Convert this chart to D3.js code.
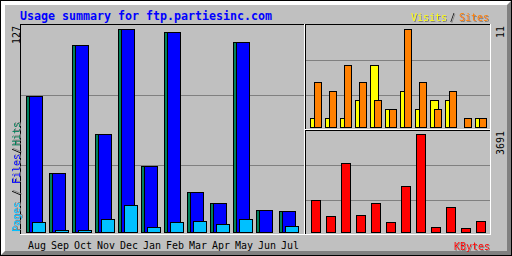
<!DOCTYPE html>
<html><head><meta charset="utf-8">
<script src="https://cdn.jsdelivr.net/npm/d3@7"></script>
<style>html,body{margin:0;padding:0;background:#c0c0c0;overflow:hidden}svg{display:block}</style>
</head><body>
<script>
// ---- data ----
const months = ["Aug","Sep","Oct","Nov","Dec","Jan","Feb","Mar","Apr","May","Jun","Jul"];
const hits   = [85, 37, 117, 61, 127, 41, 125, 25, 18, 119, 14, 13];
const files  = [85, 37, 117, 61, 127, 41, 125, 25, 18, 119, 14, 13];
const pages  = [6, 1, 1, 8, 17, 3, 6, 7, 5, 8, 0, 4];
const visits = [1, 1, 1, 3, 7, 2, 4, 2, 3, 3, 0, 1];
const sites  = [5, 4, 7, 5, 3, 2, 11, 5, 2, 4, 1, 1];
const kbytes = [1194, 591, 2588, 629, 1081, 365, 1721, 3691, 177, 930, 139, 403];
const titleText = "Usage summary for ftp.partiesinc.com";

// ---- styles ----
const C = {bg:"#c0c0c0", dk:"#808080", white:"#ffffff", black:"#000000",
  hits:"#00805c", files:"#0000ff", pages:"#00c0ff", visits:"#ffff00",
  sites:"#ff8000", kbytes:"#ff0000", title:"#0000ff"};
const FONT = "DejaVu Sans Mono";

const W = 512, H = 256;
const svg = d3.select("body").append("svg").attr("width", W).attr("height", H);

// drop shadow filter for legend text
const flt = svg.append("defs").append("filter").attr("id", "sh")
  .attr("x", "-20%").attr("y", "-20%").attr("width", "140%").attr("height", "140%");
flt.append("feFlood").attr("flood-color", C.dk).attr("result", "f");
flt.append("feComposite").attr("in", "f").attr("in2", "SourceAlpha").attr("operator", "in").attr("result", "s");
flt.append("feOffset").attr("in", "s").attr("dx", 1).attr("dy", 1).attr("result", "o");
const mg = flt.append("feMerge");
mg.append("feMergeNode").attr("in", "o");
mg.append("feMergeNode").attr("in", "SourceGraphic");

function px(x1, y1, x2, y2, c) {
  svg.append("rect").attr("x", x1).attr("y", y1)
    .attr("width", x2 - x1 + 1).attr("height", y2 - y1 + 1)
    .attr("fill", c).attr("shape-rendering", "crispEdges");
}

// background + outer bevel
px(0, 0, W - 1, H - 1, C.black);
px(1, 1, W - 2, H - 2, C.bg);
for (let i = 1; i < 5; i++) {
  px(i, i, W - i - 2, i, C.white);
  px(i, i, i, H - i - 2, C.white);
  px(i + 1, H - i - 1, W - i - 1, H - i - 1, C.dk);
  px(W - i - 1, i + 1, W - i - 1, H - i - 1, C.dk);
}

// panels (black top/left, white bottom/right)
function panel(x1, y1, x2, y2) {
  px(x1, y1, x2, y1, C.black);
  px(x1, y1, x1, y2, C.black);
  px(x1, y2, x2, y2, C.white);
  px(x2, y1, x2, y2, C.white);
}
panel(20, 24, 304, 234);
panel(305, 24, 490, 129);
panel(305, 130, 490, 234);

// grid lines
[95, 165].forEach(y => px(21, y, 303, y, C.dk));
[60, 95].forEach(y => px(306, y, 489, y, C.dk));
[165, 200].forEach(y => px(306, y, 489, y, C.dk));

// ---- scales ----
const idx = d3.range(months.length);
const xMain = d3.scaleLinear().domain([0, 11]).range([26, 26 + 23 * 11]);
const yMain = d3.scaleLinear().domain([0, d3.max(hits)]).range([232, 29]);
const xR = d3.scaleLinear().domain([0, 11]).range([310, 310 + 15 * 11]);
const yVS = d3.scaleLinear().domain([0, d3.max(sites.concat(visits))]).range([127, 29]);
const yKB = d3.scaleLinear().domain([0, d3.max(kbytes)]).range([232, 134]);

function bars(vals, xs, off, w, ys, color) {
  const base = ys(0);
  svg.append("g").selectAll("rect").data(idx.filter(i => vals[i] > 0)).join("rect")
    .attr("x", i => Math.round(xs(i)) + off + 0.5)
    .attr("y", i => Math.round(ys(vals[i])) + 0.5)
    .attr("width", w)
    .attr("height", i => base - Math.round(ys(vals[i])))
    .attr("fill", color).attr("stroke", C.black).attr("stroke-width", 1);
}
bars(hits, xMain, 0, 13, yMain, C.hits);
bars(files, xMain, 3, 13, yMain, C.files);
bars(pages, xMain, 6, 13, yMain, C.pages);
bars(visits, xR, 0, 8, yVS, C.visits);
bars(sites, xR, 4, 7, yVS, C.sites);
bars(kbytes, xR, 1, 9, yKB, C.kbytes);

// ---- text ----
function txt(s, x, y, o = {}) {
  const t = svg.append("text").text(s)
    .attr("font-family", FONT).attr("font-size", o.size || 11)
    .attr("font-weight", o.bold ? "bold" : "normal")
    .attr("fill", o.fill || C.black)
    .attr("text-anchor", o.anchor || "start")
    .attr("textLength", o.len || s.length * 6)
    .attr("lengthAdjust", "spacingAndGlyphs");
  if (o.shadow) t.attr("filter", "url(#sh)");
  if (o.rot) t.attr("transform", `translate(${x},${y}) rotate(-90)`);
  else t.attr("x", x).attr("y", y);
}

txt(titleText, 20, 20, {size: 12, bold: true, fill: C.title, len: titleText.length * 7});

// top-right legend
txt("Visits", 411, 21, {fill: C.visits, shadow: true});
txt("/", 450, 21, {fill: C.black, shadow: true, len: 5});
txt("Sites", 459, 21, {fill: C.sites, shadow: true});

// bottom-right legend
txt("KBytes", 454, 250, {fill: C.kbytes, shadow: true});

// left rotated legend
txt("Pages", 20, 232, {rot: true, fill: C.pages, shadow: true});
txt("/", 20, 196, {rot: true, fill: C.black, shadow: true});
txt("Files", 20, 184, {rot: true, fill: C.files, shadow: true});
txt("/", 20, 154, {rot: true, fill: C.black, shadow: true});
txt("Hits", 20, 146, {rot: true, fill: C.hits, shadow: true});

// scale maxima
txt(String(d3.max(hits)), 20, 26, {rot: true, anchor: "end"});
txt(String(d3.max(sites.concat(visits))), 504, 26, {rot: true, anchor: "end"});
txt(String(d3.max(kbytes)), 504, 131, {rot: true, anchor: "end"});

// month labels
months.forEach((m, i) => txt(m, Math.round(xMain(i)) + 2, 249, {}));
</script>
</body></html>
